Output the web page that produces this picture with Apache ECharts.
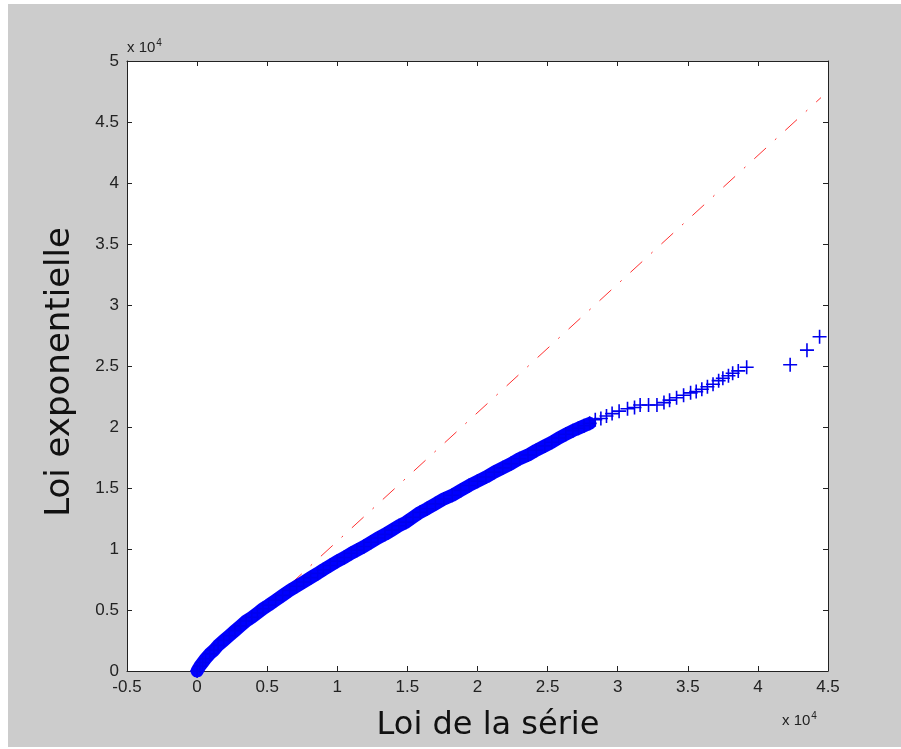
<!DOCTYPE html>
<html>
<head>
<meta charset="utf-8">
<script src="https://cdn.jsdelivr.net/npm/echarts@6/dist/echarts.min.js"></script>
<style>
  html, body { margin: 0; padding: 0; background: #fff; }
  #main { width: 901px; height: 749px; }
</style>
</head>
<body>
<div id="main"></div>
<script>
// all values are in units of 10^4 (axes show "x 10^4")
var serieX = [
  0.00, 0.02, 0.04, 0.06, 0.09, 0.12, 0.15, 0.19, 0.23, 0.27,
  0.31, 0.35, 0.39, 0.43, 0.47, 0.51, 0.56, 0.61, 0.66, 0.71,
  0.76, 0.81, 0.86, 0.90, 0.95, 1.00, 1.05, 1.10, 1.14, 1.19,
  1.24, 1.29, 1.34, 1.39, 1.44, 1.49, 1.54, 1.59, 1.64, 1.70,
  1.76, 1.82, 1.88, 1.94, 2.00, 2.06, 2.12, 2.18, 2.24, 2.30,
  2.36, 2.42, 2.48, 2.53, 2.58, 2.63, 2.68, 2.72, 2.76, 2.80,
  2.84, 2.88, 2.92, 2.96, 3.01, 3.07, 3.12, 3.16, 3.22, 3.28,
  3.33, 3.37, 3.42, 3.47, 3.52, 3.56, 3.60, 3.64, 3.68, 3.72,
  3.75, 3.79, 3.82, 3.86, 3.92, 4.23, 4.35, 4.44
];
var expoY = [
  0.00, 0.04, 0.07, 0.10, 0.14, 0.17, 0.21, 0.25, 0.29, 0.33,
  0.37, 0.41, 0.44, 0.475, 0.51, 0.54, 0.58, 0.62, 0.66, 0.695,
  0.73, 0.765, 0.80, 0.83, 0.865, 0.90, 0.93, 0.965, 0.99, 1.02,
  1.055, 1.09, 1.12, 1.155, 1.19, 1.22, 1.26, 1.30, 1.33, 1.37,
  1.41, 1.44, 1.48, 1.52, 1.555, 1.59, 1.63, 1.665, 1.70, 1.74,
  1.77, 1.81, 1.845, 1.875, 1.91, 1.94, 1.97, 1.99, 2.01, 2.03,
  2.06, 2.07, 2.09, 2.11, 2.13, 2.15, 2.16, 2.18, 2.18, 2.18,
  2.20, 2.22, 2.24, 2.26, 2.28, 2.29, 2.31, 2.33, 2.35, 2.38,
  2.40, 2.42, 2.44, 2.46, 2.49, 2.51, 2.63, 2.74
];
// where the markers overlap into a solid band
var denseUntil = 2.80;
// reference line (dash-dot)
var refX = [0, 4.45];
var refY = [0.01, 4.70];

var xRange = [-0.5, 4.5];
var yRange = [0, 5];
var tickStep = 0.5;

var myChart = echarts.init(document.getElementById("main"));

var fmt = function (v) {
  return String(+v.toFixed(1));
};

var points = serieX.map(function (x, i) { return [x, expoY[i]]; });
var densePoints = points.filter(function (p) { return p[0] <= denseUntil; });

var cross = "path://M0,6.2h14v1.6h-14zM6.2,0h1.6v14h-1.6z";

var axisCommon = {
  type: "value",
  interval: tickStep,
  axisLine: { show: true, onZero: false, lineStyle: { color: "#222", width: 1 } },
  axisTick: { show: true, inside: true, length: 5, lineStyle: { color: "#222" } },
  splitLine: { show: false },
};

var labelStyle = {
  formatter: fmt,
  fontFamily: "Liberation Sans",
  fontSize: 17,
  color: "#222",
  margin: 8,
};

var option = {
  backgroundColor: "#cccccc",
  animation: false,
  grid: {
    left: 127,
    top: 61,
    width: 701,
    height: 610,
    show: true,
    backgroundColor: "#ffffff",
    borderWidth: 0,
  },
  xAxis: [
    Object.assign({}, axisCommon, {
      min: xRange[0], max: xRange[1], position: "bottom",
      axisLabel: labelStyle,
    }),
    Object.assign({}, axisCommon, {
      min: xRange[0], max: xRange[1], position: "top",
      axisLabel: { show: false },
    }),
  ],
  yAxis: [
    Object.assign({}, axisCommon, {
      min: yRange[0], max: yRange[1], position: "left",
      axisLabel: labelStyle,
    }),
    Object.assign({}, axisCommon, {
      min: yRange[0], max: yRange[1], position: "right",
      axisLabel: { show: false },
    }),
  ],
  series: [
    {
      name: "ref",
      type: "line",
      z: 1,
      showSymbol: false,
      silent: true,
      data: refX.map(function (x, i) { return [x, refY[i]]; }),
      lineStyle: { color: "#ff3030", width: 1, type: [16, 12, 2, 12] },
    },
    {
      // overlapping crosses that merge into a thick band
      name: "band",
      type: "line",
      z: 2,
      showSymbol: false,
      silent: true,
      data: densePoints,
      lineStyle: { color: "#0000ff", width: 13, cap: "round", join: "round" },
    },
    {
      name: "qq",
      type: "scatter",
      z: 3,
      symbol: cross,
      symbolSize: 14,
      itemStyle: { color: "#0000ee", opacity: 1 },
      data: points,
    },
  ],
  graphic: [
    // thin white border around the grey figure
    { type: "rect", left: 0, top: 0, shape: { width: 901, height: 4 }, style: { fill: "#fff" } },
    { type: "rect", left: 0, top: 0, shape: { width: 8, height: 749 }, style: { fill: "#fff" } },
    { type: "rect", left: 0, top: 747, shape: { width: 901, height: 2 }, style: { fill: "#fff" } },
    {
      type: "text",
      x: 60,
      y: 372,
      rotation: Math.PI / 2,
      style: {
        text: "Loi exponentielle",
        fontFamily: "DejaVu Sans",
        fontSize: 34,
        fill: "#111",
        align: "center",
        verticalAlign: "middle",
      },
    },
    {
      type: "text",
      x: 488,
      y: 726,
      style: {
        text: "Loi de la série",
        fontFamily: "DejaVu Sans",
        fontSize: 32,
        fill: "#111",
        align: "center",
        verticalAlign: "middle",
      },
    },
    {
      type: "text",
      x: 127,
      y: 38,
      style: {
        text: "{a|x 10}{b|4}",
        rich: {
          a: { fontFamily: "Liberation Sans", fontSize: 15, fill: "#222" },
          b: { fontFamily: "Liberation Sans", fontSize: 10, fill: "#222", verticalAlign: "top", padding: [0, 0, 9, 1] },
        },
      },
    },
    {
      type: "text",
      x: 782,
      y: 711,
      style: {
        text: "{a|x 10}{b|4}",
        rich: {
          a: { fontFamily: "Liberation Sans", fontSize: 15, fill: "#222" },
          b: { fontFamily: "Liberation Sans", fontSize: 10, fill: "#222", verticalAlign: "top", padding: [0, 0, 9, 1] },
        },
      },
    },
  ],
};

myChart.setOption(option);
</script>
</body>
</html>
